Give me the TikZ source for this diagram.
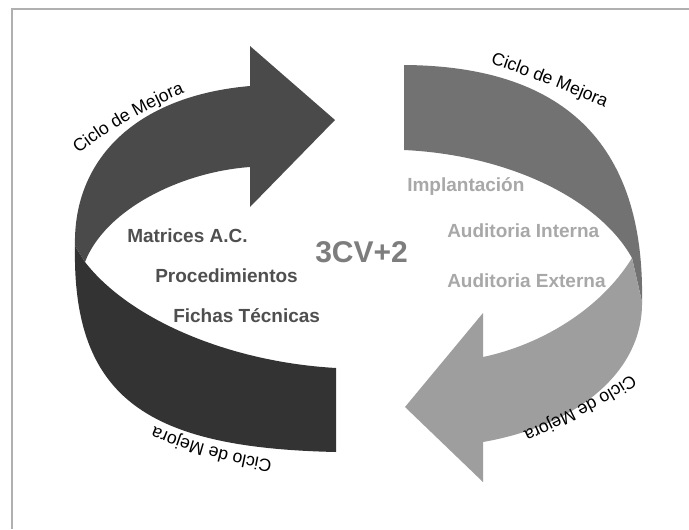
\documentclass[tikz,border=0pt]{standalone}
\usepackage{fontspec}
\setmainfont{Liberation Sans}
\usetikzlibrary{decorations.text}

\definecolor{bandUL}{HTML}{4A4A4A}
\definecolor{bandLL}{HTML}{333333}
\definecolor{bandRU}{HTML}{727272}
\definecolor{bandRL}{HTML}{9E9E9E}
\definecolor{frameline}{HTML}{B0B0B0}
\definecolor{darktext}{HTML}{4F4F4F}
\definecolor{midtext}{HTML}{7D7D7D}
\definecolor{lighttext}{HTML}{A8A8A8}

\newcommand\ciclofont{\fontsize{13.25pt}{13.25pt}\selectfont}

\tikzset{
  itemleft/.style={anchor=base west, inner sep=0pt, text=darktext,
    font=\bfseries\fontsize{14.25pt}{14.25pt}\selectfont},
  itemright/.style={anchor=base west, inner sep=0pt, text=lighttext,
    font=\bfseries\fontsize{14.25pt}{14.25pt}\selectfont},
  centertitle/.style={anchor=base west, inner sep=0pt, text=midtext,
    font=\bfseries\fontsize{22.5pt}{22.5pt}\selectfont},
  arclabel/.style={decorate, decoration={text along path, text align=center,
    text={|\ciclofont|Ciclo de Mejora}}}
}

\begin{document}
\begin{tikzpicture}[x=0.75pt, y=-0.75pt]
  \useasboundingbox (0,0) rectangle (689,529);
  \fill[white] (0,0) rectangle (689,529);

  % frame
  \draw[frameline, line width=1.1pt] (12,529) -- (12,9) -- (689,9);

  % lower left band
  \fill[bandLL] (75,246) .. controls (72,400) and (150,448) .. (336,452)
    -- (336,368) .. controls (230,362) and (130,320) .. (85,262) -- cycle;

  % upper left arrow
  \fill[bandUL] (75,246) .. controls (73,160) and (135,96) .. (250,86)
    -- (250,46) -- (335,120) -- (250,207) -- (250,167)
    .. controls (180,172) and (105,210) .. (85,262) -- cycle;

  % upper right band
  \fill[bandRU] (404,65) .. controls (560,66) and (645,140) .. (642,302)
    -- (632,258) .. controls (600,200) and (510,155) .. (404,150) -- cycle;

  % lower right arrow
  \fill[bandRL] (632,258) .. controls (600,310) and (540,345) .. (483,357)
    -- (483,313) -- (405,407) -- (483,482) -- (483,442)
    .. controls (580,425) and (643,370) .. (642,302) -- cycle;

  % labels along the outer edges
  \path[arclabel] (67,164) .. controls (102,132) and (154,104) .. (199,87);
  \path[arclabel] (480,60) .. controls (515,71) and (575,94) .. (615,112);
  \path[arclabel] (285,462) .. controls (248,457) and (178,441) .. (143,421);
  \path[arclabel] (645,365) .. controls (608,393) and (558,416) .. (508,439);

  % inner texts
  \node[itemleft] (matrices) at (127,242) {Matrices A.C.};
  \node[itemleft] (proc) at (155,282) {Procedimientos};
  \node[itemleft] (fichas) at (173,322) {Fichas Técnicas};
  \node[centertitle] (title) at (315,262) {3CV+2};
  \node[itemright] (impl) at (407,191) {Implantación};
  \node[itemright] (audint) at (447,237) {Auditoria Interna};
  \node[itemright] (audext) at (447,287) {Auditoria Externa};
\end{tikzpicture}
\end{document}
